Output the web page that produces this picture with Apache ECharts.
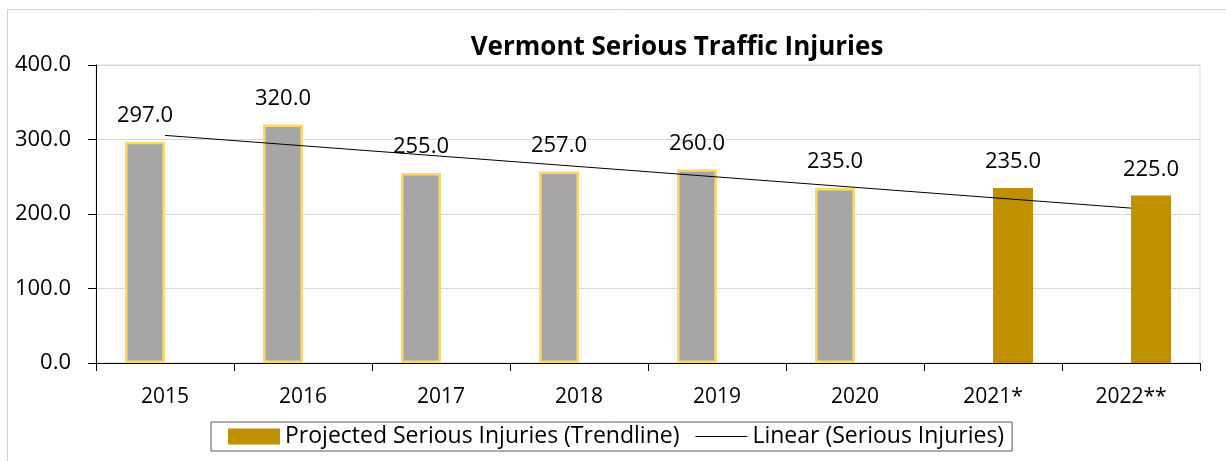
<!DOCTYPE html>
<html>
<head>
<meta charset="utf-8">
<script src="https://cdn.jsdelivr.net/npm/echarts@6/dist/echarts.min.js"></script>
<style>
  html, body { margin: 0; padding: 0; background: #fff; }
  #chart { width: 1226px; height: 461px; }
</style>
</head>
<body>
<div id="chart"></div>
<script>
// values
const years = ['2015', '2016', '2017', '2018', '2019', '2020', '2021*', '2022**']
const seriousInjuries = [297, 320, 255, 257, 260, 235, null, null]
const projected = [null, null, null, null, null, null, 235, 225]
// linear trendline, only its two end points (2015 and 2022)
const trendEnds = [305.5, null, null, null, null, null, null, 207.9]
const yTicks = [0, 100, 200, 300, 400]

const FONT = "'Open Sans', 'Noto Sans', sans-serif"
const chart = echarts.init(document.getElementById('chart'))

const barLabel = {
  show: true, position: 'top', distance: 15,
  fontFamily: FONT, fontSize: 22, color: '#000',
  formatter: (p) => Number(p.value).toFixed(1),
}

chart.setOption({
  animation: false,
  backgroundColor: '#fff',
  title: {
    text: 'Vermont Serious Traffic Injuries',
    left: 672,
    top: 30,
    textAlign: 'center',
    textStyle: { fontFamily: FONT, fontSize: 26, fontWeight: 'bold', color: '#000' },
  },
  graphic: [
    {
      type: 'polyline',
      shape: { points: [[7.5, 461], [7.5, 9.5], [1226, 9.5]] },
      style: { stroke: '#d0d0d0', lineWidth: 1, fill: null },
      silent: true,
    },
  ],
  grid: {
    left: 96, right: 26, top: 65, bottom: 98,
    show: true, borderColor: '#d9d9d9', borderWidth: 1,
  },
  legend: {
    bottom: 10,
    left: 211,
    padding: [3, 8, 3, 17],
    borderColor: '#595959',
    borderWidth: 1,
    itemGap: 16,
    itemWidth: 52,
    itemHeight: 16,
    textStyle: { fontFamily: FONT, fontSize: 23, color: '#000' },
    data: [
      { name: 'Projected Serious Injuries (Trendline)', icon: 'rect' },
      {
        name: 'Linear (Serious Injuries)',
        icon: 'path://M0,0L100,0L100,2.2L0,2.2Z',
        itemStyle: { color: '#000' },
      },
    ],
  },
  xAxis: {
    type: 'category',
    data: years,
    axisLine: { lineStyle: { color: '#000', width: 1 } },
    axisTick: { show: true, length: 8, lineStyle: { color: '#000' } },
    axisLabel: { margin: 24, fontFamily: FONT, fontSize: 21, color: '#000' },
  },
  yAxis: {
    type: 'value',
    min: yTicks[0],
    max: yTicks[yTicks.length - 1],
    interval: 100,
    axisLine: { show: true, lineStyle: { color: '#000', width: 1 } },
    axisTick: { show: true, length: 8, lineStyle: { color: '#000' } },
    axisLabel: {
      margin: 25, fontFamily: FONT, fontSize: 22, color: '#000',
      formatter: (v) => Number(v).toFixed(1),
    },
    splitLine: { lineStyle: { color: '#d9d9d9', width: 1 } },
  },
  series: [
    {
      name: 'Serious Injuries',
      type: 'bar',
      data: seriousInjuries,
      barWidth: 40,
      barGap: '0%',
      itemStyle: { color: '#a6a6a6', borderColor: '#ffd966', borderWidth: 2.5 },
      label: barLabel,
    },
    {
      name: 'Projected Serious Injuries (Trendline)',
      type: 'bar',
      data: projected,
      barWidth: 40,
      itemStyle: { color: '#bf9000' },
      label: barLabel,
    },
    {
      name: 'Linear (Serious Injuries)',
      type: 'line',
      data: trendEnds,
      connectNulls: true,
      symbol: 'none',
      z: 5,
      itemStyle: { color: '#000' },
      lineStyle: { color: '#000', width: 1 },
    },
  ],
})
</script>
</body>
</html>
